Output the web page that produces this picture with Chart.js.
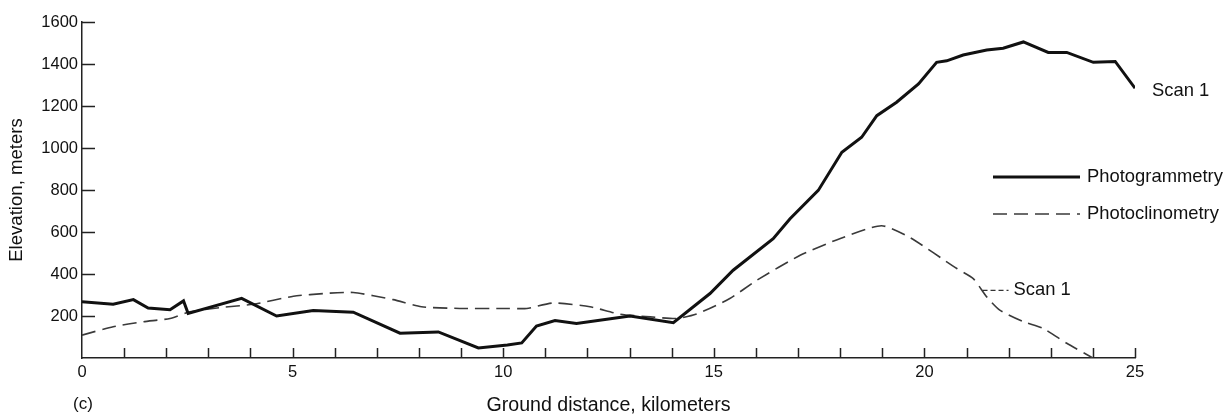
<!DOCTYPE html>
<html>
<head>
<meta charset="utf-8">
<script src="https://cdn.jsdelivr.net/npm/chart.js@4/dist/chart.umd.min.js"></script>
<style>
  html, body { margin: 0; padding: 0; background: #fff; }
  #wrap { width: 1230px; height: 417px; }
</style>
</head>
<body>
<div id="wrap"><canvas id="c" width="1230" height="417"></canvas></div>
<script>
// ---- data ----
const gramKm   = [0, 0.74, 1.22, 1.57, 2.09, 2.41, 2.52, 3.79, 4.62, 5.49, 6.44, 7.55, 8.46, 9.41, 10.1, 10.44, 10.79, 11.23, 11.74, 13.01, 14.04, 14.91, 15.46, 16.41, 16.81, 17.48, 18.04, 18.51, 18.87, 19.34, 19.86, 20.29, 20.53, 20.92, 21.48, 21.87, 22.35, 22.94, 23.38, 24.01, 24.53, 25.0];
const gramElev = [268, 256, 278, 238, 230, 272, 212, 284, 200, 226, 218, 118, 124, 48, 62, 72, 152, 178, 164, 200, 168, 307, 418, 568, 663, 798, 980, 1051, 1154, 1218, 1305, 1408, 1415, 1443, 1467, 1475, 1505, 1455, 1455, 1408, 1412, 1285];

const clinoKm   = [0, 0.74, 1.46, 2.09, 2.56, 3.28, 4.07, 5.02, 5.81, 6.44, 7.39, 8.06, 8.97, 10.12, 10.56, 11.19, 12.06, 12.77, 13.49, 14.12, 14.59, 15.38, 16.02, 17.05, 17.99, 18.98, 19.66, 20.77, 21.16, 21.48, 21.79, 22.35, 22.82, 23.38, 24.0];
const clinoElev = [109, 149, 173, 188, 220, 240, 256, 294, 308, 312, 278, 244, 236, 236, 236, 262, 244, 209, 196, 188, 209, 283, 370, 489, 568, 630, 573, 426, 378, 291, 228, 173, 141, 70, 0];

const seriesNames = ['Photogrammetry', 'Photoclinometry'];
const xTickLabels = [0, 5, 10, 15, 20, 25];
const yTickLabels = [200, 400, 600, 800, 1000, 1200, 1400, 1600];
const xTitle = 'Ground distance, kilometers';
const yTitle = 'Elevation, meters';
const panelTag = '(c)';
const scanLabel = 'Scan 1';
// annotation anchor for the photoclinometry "Scan 1" leader (data units)
const clinoScanAnchor = { x: 21.38, y: 322 };

const FONT = "'Liberation Sans', Arial, sans-serif";
const INK = '#111';

const toPts = (xs, ys) => xs.map((x, i) => ({ x: x, y: ys[i] }));

const overlay = {
  id: 'overlay',
  afterDraw(chart) {
    const ctx = chart.ctx;
    const xs = chart.scales.x, ys = chart.scales.y;
    const area = chart.chartArea;
    ctx.save();
    // inward tick marks
    ctx.strokeStyle = '#222';
    ctx.lineWidth = 1.5;
    ctx.beginPath();
    xs.ticks.forEach(t => {
      if (t.value <= 0) return;
      const px = Math.round(xs.getPixelForValue(t.value)) + 0.5;
      ctx.moveTo(px, area.bottom);
      ctx.lineTo(px, area.bottom - 10);
    });
    ys.ticks.forEach(t => {
      if (t.value <= 0) return;
      const py = Math.round(ys.getPixelForValue(t.value)) + 0.5;
      ctx.moveTo(area.left, py);
      ctx.lineTo(area.left + 13, py);
    });
    ctx.stroke();

    // legend
    const ds = chart.data.datasets;
    const lx0 = 993, lx1 = 1080, tx = 1087;
    const rows = [177, 214];
    ctx.font = '18.4px ' + FONT;
    ctx.fillStyle = INK;
    ctx.textBaseline = 'middle';
    ctx.textAlign = 'left';
    ds.forEach((d, i) => {
      ctx.beginPath();
      ctx.strokeStyle = d.borderColor;
      ctx.lineWidth = d.borderWidth;
      ctx.setLineDash(d.borderDash || []);
      ctx.moveTo(lx0, rows[i]);
      ctx.lineTo(lx1, rows[i]);
      ctx.stroke();
      ctx.setLineDash([]);
      ctx.fillText(d.label, tx, rows[i]);
    });

    // "Scan 1" at end of photogrammetry line
    const last = ds[0].data[ds[0].data.length - 1];
    const ex = xs.getPixelForValue(last.x), ey = ys.getPixelForValue(last.y);
    ctx.fillText(scanLabel, ex + 17, ey + 3);

    // "--- Scan 1" for photoclinometry
    const ax = xs.getPixelForValue(clinoScanAnchor.x), ay = ys.getPixelForValue(clinoScanAnchor.y);
    ctx.beginPath();
    ctx.strokeStyle = '#333';
    ctx.lineWidth = 1.3;
    ctx.setLineDash([5, 3]);
    ctx.moveTo(ax, ay);
    ctx.lineTo(ax + 26, ay);
    ctx.stroke();
    ctx.setLineDash([]);
    ctx.fillText(scanLabel, ax + 31, ay);

    // panel tag
    ctx.font = '17px ' + FONT;
    ctx.fillText(panelTag, 73, 404);
    ctx.restore();
  }
};

new Chart(document.getElementById('c'), {
  type: 'line',
  data: {
    datasets: [
      {
        label: seriesNames[0],
        data: toPts(gramKm, gramElev),
        borderColor: '#111',
        borderWidth: 3,
        pointRadius: 0,
        tension: 0,
        fill: false
      },
      {
        label: seriesNames[1],
        data: toPts(clinoKm, clinoElev),
        borderColor: '#3a3a3a',
        borderWidth: 1.6,
        borderDash: [14, 7],
        pointRadius: 0,
        tension: 0.2,
        fill: false
      }
    ]
  },
  options: {
    responsive: false,
    animation: false,
    events: [],
    layout: { padding: { left: 0, top: 22, right: 95, bottom: 0 } },
    plugins: { legend: { display: false }, tooltip: { enabled: false } },
    scales: {
      x: {
        type: 'linear',
        min: 0, max: 25,
        grid: { display: false, drawTicks: false },
        border: { display: true, color: '#222', width: 1.5 },
        ticks: {
          stepSize: 1,
          autoSkip: false,
          maxRotation: 0,
          padding: 5,
          color: INK,
          font: { family: FONT, size: 16.5 },
          callback: v => xTickLabels.includes(v) ? String(v) : ''
        },
        title: {
          display: true, text: xTitle, color: INK,
          font: { family: FONT, size: 19.6 },
          padding: { top: 0, bottom: 0 }
        },
        afterFit: s => { s.height = 59; }
      },
      y: {
        type: 'linear',
        min: 0, max: 1600,
        grid: { display: false, drawTicks: false },
        border: { display: true, color: '#222', width: 1.5 },
        ticks: {
          stepSize: 200,
          padding: 4,
          color: INK,
          font: { family: FONT, size: 16.5 },
          callback: v => yTickLabels.includes(v) ? String(v) : ''
        },
        title: {
          display: true, text: yTitle, color: INK,
          font: { family: FONT, size: 18.6 },
          padding: { top: 6, bottom: 0 }
        },
        afterFit: s => { s.width = 82; }
      }
    }
  },
  plugins: [overlay]
});
</script>
</body>
</html>
